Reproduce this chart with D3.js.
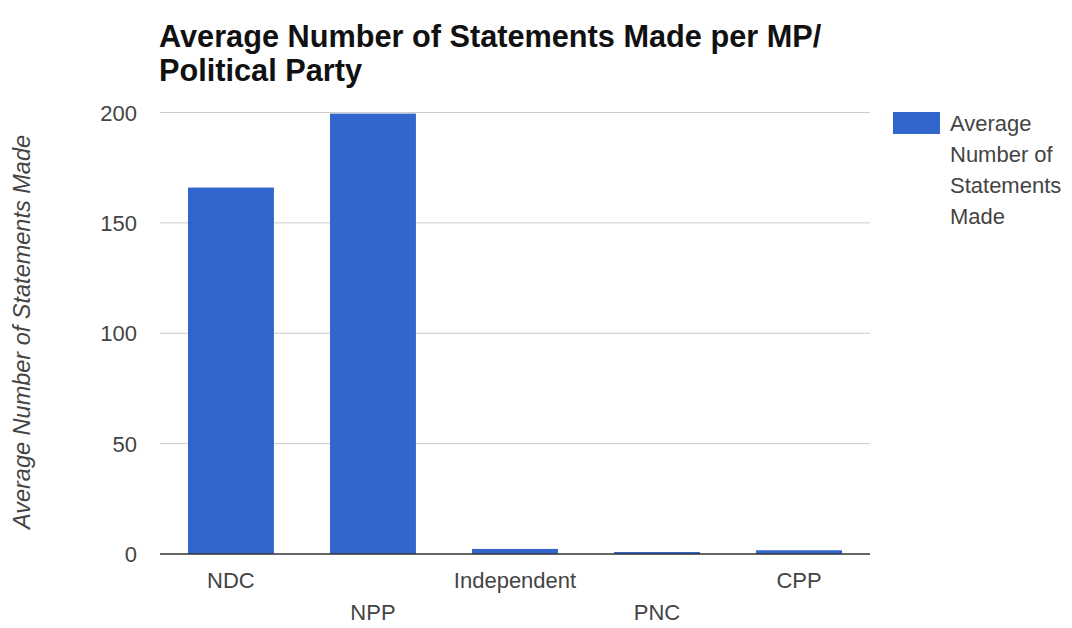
<!DOCTYPE html>
<html>
<head>
<meta charset="utf-8">
<script src="https://cdn.jsdelivr.net/npm/d3@7"></script>
<style>
  body { margin: 0; background: #fff; }
  svg { font-family: Arial, "Liberation Sans", sans-serif; }
  .axis text { fill: #444; font-size: 22px; }
</style>
</head>
<body>
<svg id="chart" width="1072" height="628"></svg>
<script>
// ── Data ──────────────────────────────────────────────────────────────────────
const parties  = ["NDC", "NPP", "Independent", "PNC", "CPP"];
const averages = [166, 199.5, 2.3, 0.9, 1.7];
const yTicks   = [0, 50, 100, 150, 200];
const seriesName = "Average Number of Statements Made";
const legendLines = ["Average", "Number of", "Statements", "Made"];
const titleLines  = ["Average Number of Statements Made per MP/", "Political Party"];

const BAR = "#3366cc";

const svg = d3.select("#chart");
const plot = { left: 160, right: 870, top: 112.5, bottom: 554 };

const x = d3.scaleBand()
  .domain(parties)
  .range([plot.left, plot.right])
  .paddingInner(0.395)
  .paddingOuter(0.197);

const y = d3.scaleLinear()
  .domain([0, 200])
  .range([plot.bottom, plot.top]);

// Title
svg.append("g").selectAll("text")
  .data(titleLines)
  .join("text")
  .attr("x", 159)
  .attr("y", (d, i) => 47 + i * 34)
  .attr("font-size", 30.7)
  .attr("font-weight", "bold")
  .attr("fill", "#111")
  .text(d => d);

// Gridlines
svg.append("g")
  .selectAll("line")
  .data(yTicks.filter(t => t > 0))
  .join("line")
  .attr("x1", plot.left).attr("x2", plot.right)
  .attr("y1", d => y(d)).attr("y2", d => y(d))
  .attr("stroke", "#cccccc").attr("stroke-width", 1);

// Y axis labels
const yAxis = svg.append("g").attr("class", "axis")
  .attr("transform", `translate(${plot.left},0)`)
  .call(d3.axisLeft(y).tickValues(yTicks).tickSize(0).tickPadding(23));
yAxis.select(".domain").remove();
yAxis.selectAll("text").attr("dy", "0.35em");

// Bars
svg.append("g")
  .selectAll("rect")
  .data(parties.map((p, i) => ({ p, v: averages[i] })))
  .join("rect")
  .attr("x", d => x(d.p))
  .attr("width", x.bandwidth())
  .attr("y", d => y(d.v))
  .attr("height", d => y(0) - y(d.v))
  .attr("fill", BAR);

// Baseline
svg.append("line")
  .attr("x1", plot.left).attr("x2", plot.right)
  .attr("y1", y(0)).attr("y2", y(0))
  .attr("stroke", "#333").attr("stroke-width", 1.5);

// X labels, staggered on two rows
svg.append("g").attr("class", "axis")
  .selectAll("text")
  .data(parties)
  .join("text")
  .attr("x", d => x(d) + x.bandwidth() / 2)
  .attr("y", (d, i) => i % 2 === 0 ? 588 : 620)
  .attr("text-anchor", "middle")
  .text(d => d);

// Y axis title
svg.append("text")
  .attr("transform", `translate(30,332) rotate(-90)`)
  .attr("text-anchor", "middle")
  .attr("font-size", 23.5)
  .attr("font-style", "italic")
  .attr("fill", "#444")
  .text(seriesName);

// Legend
const lg = svg.append("g").attr("transform", "translate(893,112)");
lg.append("rect").attr("width", 47).attr("height", 22).attr("fill", BAR);
lg.append("g").attr("class", "axis")
  .selectAll("text")
  .data(legendLines)
  .join("text")
  .attr("x", 57)
  .attr("y", (d, i) => 19 + i * 31)
  .text(d => d);
</script>
</body>
</html>
